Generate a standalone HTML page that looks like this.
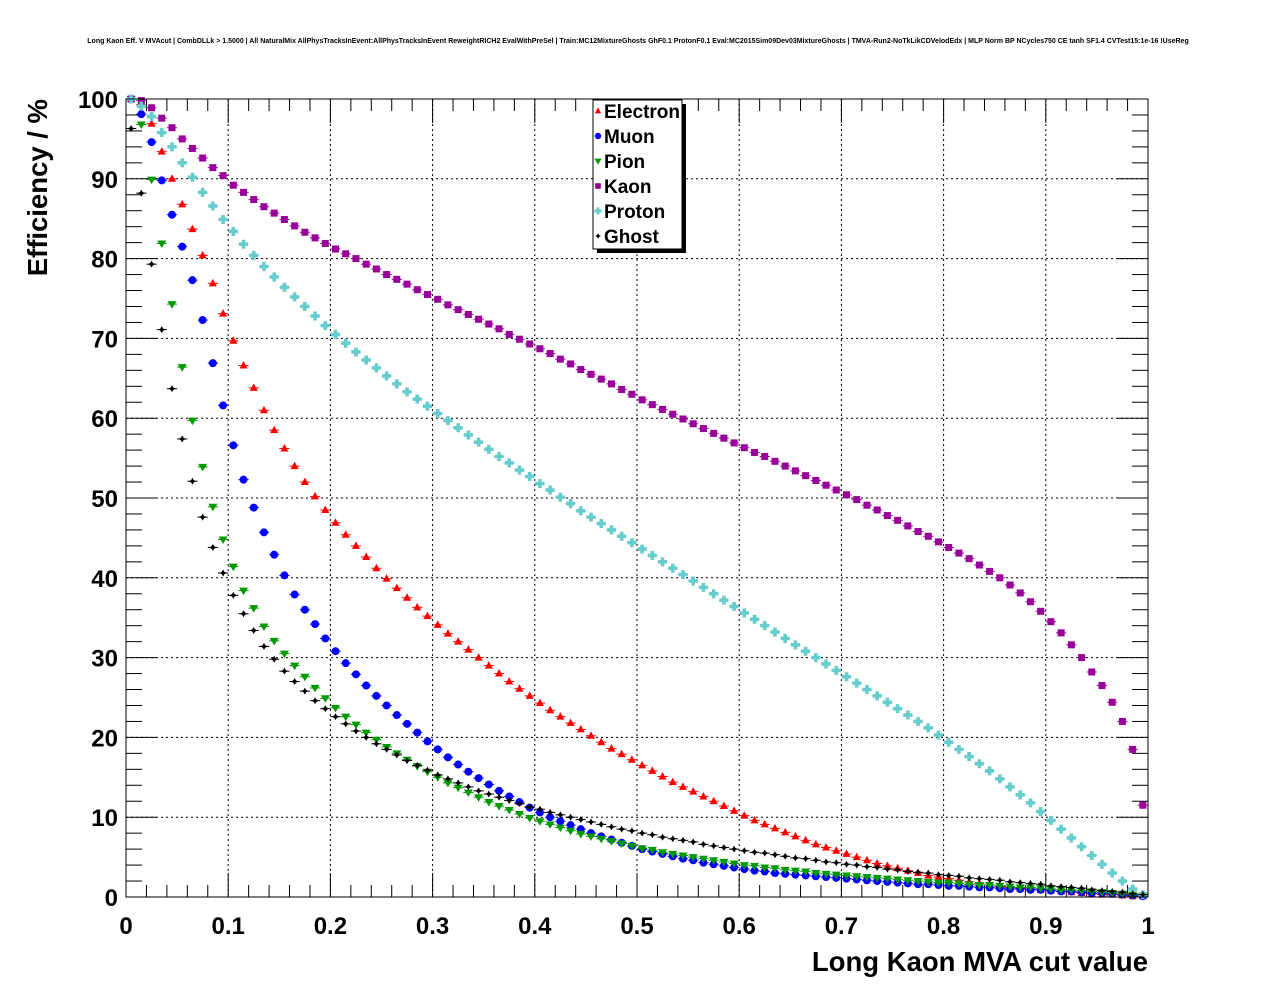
<!DOCTYPE html>
<html><head><meta charset="utf-8">
<style>
html,body{margin:0;padding:0;background:#fff;}
svg text{font-family:"Liberation Sans",Arial,sans-serif;}
</style></head>
<body>
<svg id="chart" width="1276" height="996" viewBox="0 0 1276 996" xmlns="http://www.w3.org/2000/svg">
<rect width="1276" height="996" fill="#fff"/>
<text x="638" y="43" font-size="7" text-anchor="middle" font-weight="bold">Long Kaon Eff. V MVAcut | CombDLLk &gt; 1.5000 | All NaturalMix AllPhysTracksInEvent:AllPhysTracksInEvent ReweightRICH2 EvalWithPreSel | Train:MC12MixtureGhosts GhF0.1 ProtonF0.1 Eval:MC2015Sim09Dev03MixtureGhosts | TMVA-Run2-NoTkLikCDVelodEdx | MLP Norm BP NCycles750 CE tanh SF1.4 CVTest15:1e-16 !UseReg</text>
<g id="grid"></g>
<g id="axes"></g>
<g id="marks"></g>
<rect x="126" y="99" width="1022" height="798" fill="none" stroke="#000" stroke-width="1"/>
<text transform="translate(47,99) rotate(-90)" text-anchor="end" font-size="27.5" font-weight="bold">Efficiency / %</text>
<text x="1148" y="971" text-anchor="end" font-size="27.5" font-weight="bold">Long Kaon MVA cut value</text>
<g id="legend">
<rect x="597" y="104" width="89" height="149" fill="#000"/>
<rect x="593" y="100" width="89" height="149" fill="#fff" stroke="#000" stroke-width="1"/>
</g>
</svg>
<script>
const categories = [];
for (let i = 0; i < 100; i++) categories.push(0.005 + 0.01 * i);
const xTicks = ["0","0.1","0.2","0.3","0.4","0.5","0.6","0.7","0.8","0.9","1"];
const yTicks = ["0","10","20","30","40","50","60","70","80","90","100"];
const seriesNames = ["Electron","Muon","Pion","Kaon","Proton","Ghost"];
const electron = [100,99.3,96.9,93.4,90.0,86.8,83.7,80.4,76.9,73.1,69.7,66.6,63.8,61.0,58.5,56.2,54.0,52.0,50.2,48.5,46.9,45.4,44.0,42.6,41.2,39.9,38.7,37.5,36.3,35.2,34.1,33.0,32.0,31.0,30.0,29.0,28.0,27.0,26.1,25.2,24.3,23.4,22.6,21.8,21.0,20.2,19.4,18.6,17.9,17.2,16.5,15.8,15.1,14.4,13.8,13.2,12.6,12.0,11.4,10.8,10.2,9.6,9.1,8.6,8.1,7.6,7.1,6.6,6.2,5.8,5.4,5.0,4.6,4.2,3.9,3.6,3.3,3.0,2.7,2.5,2.3,2.1,1.9,1.7,1.5,1.3,1.2,1.1,1.0,0.9,0.8,0.7,0.6,0.5,0.4,0.3,0.3,0.2,0.1,0.1];
const muon = [100,98.1,94.6,89.8,85.5,81.5,77.3,72.3,66.9,61.6,56.6,52.3,48.8,45.7,42.9,40.3,37.9,36.0,34.2,32.4,30.8,29.3,27.9,26.5,25.2,24.0,22.8,21.7,20.6,19.5,18.5,17.5,16.6,15.7,14.9,14.1,13.3,12.6,11.9,11.2,10.6,10.0,9.5,9.0,8.5,8.0,7.6,7.2,6.8,6.4,6.0,5.7,5.4,5.1,4.8,4.6,4.3,4.1,3.9,3.7,3.5,3.3,3.2,3.0,2.9,2.8,2.7,2.6,2.5,2.4,2.3,2.2,2.1,2.0,1.9,1.8,1.7,1.6,1.6,1.5,1.4,1.4,1.3,1.2,1.2,1.1,1.0,1.0,0.9,0.9,0.8,0.7,0.7,0.6,0.5,0.5,0.4,0.3,0.2,0.1];
const pion = [100,96.8,89.9,81.9,74.3,66.4,59.7,53.9,48.9,44.8,41.4,38.4,36.2,33.9,32.1,30.5,29.0,27.6,26.2,24.9,23.7,22.6,21.6,20.6,19.7,18.8,18.0,17.2,16.4,15.7,15.0,14.3,13.7,13.1,12.5,11.9,11.4,10.9,10.4,9.9,9.5,9.1,8.7,8.3,7.9,7.6,7.3,7.0,6.7,6.4,6.1,5.9,5.6,5.4,5.2,5.0,4.8,4.6,4.4,4.2,4.0,3.9,3.7,3.6,3.4,3.3,3.2,3.0,2.9,2.8,2.7,2.6,2.5,2.4,2.3,2.2,2.1,2.0,1.9,1.8,1.8,1.7,1.6,1.5,1.5,1.4,1.3,1.2,1.2,1.1,1.0,0.9,0.9,0.8,0.7,0.6,0.5,0.4,0.3,0.2];
const kaon = [100,99.8,98.9,97.6,96.4,95.0,93.8,92.6,91.4,90.4,89.2,88.3,87.4,86.5,85.7,84.9,84.1,83.3,82.6,81.9,81.2,80.6,80.0,79.3,78.7,78.0,77.4,76.8,76.1,75.5,74.9,74.2,73.6,73.0,72.4,71.8,71.2,70.5,69.9,69.3,68.7,68.1,67.4,66.8,66.1,65.5,64.9,64.3,63.6,63.0,62.3,61.7,61.1,60.5,59.9,59.3,58.7,58.1,57.5,56.9,56.3,55.7,55.2,54.6,54.0,53.4,52.8,52.2,51.6,51.0,50.4,49.8,49.1,48.5,47.8,47.2,46.5,45.8,45.2,44.5,43.8,43.1,42.4,41.6,40.8,40.0,39.1,38.1,37.0,35.8,34.5,33.1,31.6,30.0,28.2,26.5,24.4,22.0,18.5,11.5];
const proton = [100,99.1,97.8,95.8,94.0,92.0,90.2,88.3,86.6,84.9,83.4,81.8,80.4,79.0,77.7,76.4,75.2,74.0,72.8,71.6,70.5,69.4,68.3,67.3,66.3,65.3,64.3,63.3,62.4,61.5,60.6,59.7,58.8,57.9,57.0,56.1,55.2,54.4,53.5,52.7,51.8,51.0,50.1,49.3,48.4,47.6,46.8,46.0,45.2,44.4,43.6,42.8,42.0,41.2,40.4,39.6,38.8,38.0,37.2,36.4,35.6,34.8,34.0,33.2,32.4,31.6,30.8,30.0,29.2,28.4,27.6,26.8,26.0,25.2,24.4,23.6,22.8,22.0,21.2,20.3,19.4,18.5,17.6,16.7,15.8,14.8,13.8,12.8,11.8,10.7,9.6,8.5,7.4,6.3,5.2,4.1,3.0,2.0,1.0,0.3];
const ghost = [96.3,88.2,79.3,71.1,63.7,57.4,52.1,47.6,43.8,40.6,37.8,35.5,33.4,31.4,29.8,28.3,27.0,25.8,24.6,23.6,22.6,21.7,20.8,20.0,19.2,18.5,17.8,17.1,16.5,15.9,15.3,14.8,14.3,13.8,13.3,12.9,12.5,12.1,11.7,11.3,11.0,10.6,10.3,10.0,9.7,9.4,9.1,8.8,8.5,8.3,8.0,7.8,7.5,7.3,7.1,6.9,6.6,6.4,6.2,6.0,5.8,5.6,5.5,5.3,5.1,4.9,4.8,4.6,4.4,4.3,4.1,4.0,3.8,3.7,3.5,3.4,3.2,3.1,3.0,2.8,2.7,2.6,2.4,2.3,2.2,2.1,1.9,1.8,1.7,1.6,1.4,1.3,1.2,1.1,0.9,0.8,0.7,0.6,0.4,0.3];

const NS = "http://www.w3.org/2000/svg";
const X0 = 126, X1 = 1148, Y0 = 897, Y1 = 99;
function xScale(v){ return X0 + (X1 - X0) * v; }
function yScale(v){ return Y0 - (Y0 - Y1) * v / 100; }
function mk(tag, attrs, parent){
  const e = document.createElementNS(NS, tag);
  for (const k in attrs) e.setAttribute(k, attrs[k]);
  parent.appendChild(e);
  return e;
}
const grid = document.getElementById("grid");
const axes = document.getElementById("axes");
const marks = document.getElementById("marks");

xTicks.forEach((t, i) => {
  const v = parseFloat(t);
  const x = xScale(v);
  if (i > 0 && i < xTicks.length - 1) {
    const g = mk("line", {x1:x, x2:x, y1:Y1, y2:Y0, stroke:"#000", "stroke-width":1, "stroke-dasharray":"2,3"}, grid);
    
    
  }
  mk("line", {x1:x, x2:x, y1:Y0, y2:Y0-24, stroke:"#000"}, axes);
  mk("line", {x1:x, x2:x, y1:Y1, y2:Y1+24, stroke:"#000"}, axes);
  const lb = mk("text", {x:x, y:934, "text-anchor":"middle", "font-size":"24", "font-weight":"bold"}, axes);
  lb.textContent = t;
  
  
});
for (let k = 1; k < 50; k++) {
  if (k % 5 === 0) continue;
  const x = xScale(k * 0.02);
  mk("line", {x1:x, x2:x, y1:Y0, y2:Y0-12, stroke:"#000"}, axes);
  mk("line", {x1:x, x2:x, y1:Y1, y2:Y1+12, stroke:"#000"}, axes);
}
yTicks.forEach((t, i) => {
  const v = parseFloat(t);
  const y = yScale(v);
  if (i > 0 && i < yTicks.length - 1) {
    const g = mk("line", {x1:X0, x2:X1, y1:y, y2:y, stroke:"#000", "stroke-width":1, "stroke-dasharray":"2,3"}, grid);
    
    
  }
  mk("line", {x1:X0, x2:X0+31, y1:y, y2:y, stroke:"#000"}, axes);
  mk("line", {x1:X1, x2:X1-31, y1:y, y2:y, stroke:"#000"}, axes);
  const lb = mk("text", {x:118, y:y+9, "text-anchor":"end", "font-size":"24", "font-weight":"bold"}, axes);
  lb.textContent = t;
  
  
});
for (let k = 1; k < 50; k++) {
  if (k % 5 === 0) continue;
  const y = yScale(k * 2);
  mk("line", {x1:X0, x2:X0+16, y1:y, y2:y, stroke:"#000"}, axes);
  mk("line", {x1:X1, x2:X1-16, y1:y, y2:y, stroke:"#000"}, axes);
}

const colors = ["#ff0000","#0000ff","#009900","#990099","#66cccc","#000000"];
function marker(type, x, y, c, parent, s){
  s = s || 1;
  if (type === 0) return mk("polygon", {points:`${x},${y-4.5*s} ${x-4*s},${y+3*s} ${x+4*s},${y+3*s}`, fill:c}, parent);
  if (type === 1) return mk("circle", {cx:x, cy:y, r:4*s, fill:c}, parent);
  if (type === 2) return mk("polygon", {points:`${x},${y+4.5*s} ${x-4.5*s},${y-3*s} ${x+4.5*s},${y-3*s}`, fill:c}, parent);
  if (type === 3) return mk("rect", {x:x-3.5*s, y:y-3.5*s, width:7*s, height:7*s, fill:c}, parent);
  if (type === 4) return mk("path", {d:`M${x-1.8*s},${y-4.5*s}h${3.6*s}v${2.7*s}h${2.7*s}v${3.6*s}h${-2.7*s}v${2.7*s}h${-3.6*s}v${-2.7*s}h${-2.7*s}v${-3.6*s}h${2.7*s}z`, fill:c}, parent);
  return mk("path", {d:`M${x},${y-3.5*s}L${x+1.3*s},${y-1.3*s}L${x+3.5*s},${y}L${x+1.3*s},${y+1.3*s}L${x},${y+3.5*s}L${x-1.3*s},${y+1.3*s}L${x-3.5*s},${y}L${x-1.3*s},${y-1.3*s}z`, fill:c}, parent);
}
const allSeries = [electron, muon, pion, kaon, proton, ghost];
allSeries.forEach((vals, si) => {
  const g = mk("g", {}, marks);
  
  
  vals.forEach((v, i) => {
    const x = xScale(categories[i]);
    const y = yScale(v);
    mk("line", {x1:xScale(categories[i]-0.005), x2:xScale(categories[i]+0.005), y1:y, y2:y, stroke:colors[si], "stroke-width":1}, g);
    const m = marker(si, x, y, colors[si], g);
    
    
  });
});

const legend = document.getElementById("legend");
seriesNames.forEach((n, i) => {
  const y = 111 + i * 25;
  const g = mk("g", {}, legend);
  
  
  marker(i, 598, y, colors[i], g, 0.8);
  const t = mk("text", {x:604, y:y+7, "font-size":"19", "font-weight":"bold"}, g);
  t.textContent = n;
});
</script>
</body></html>
